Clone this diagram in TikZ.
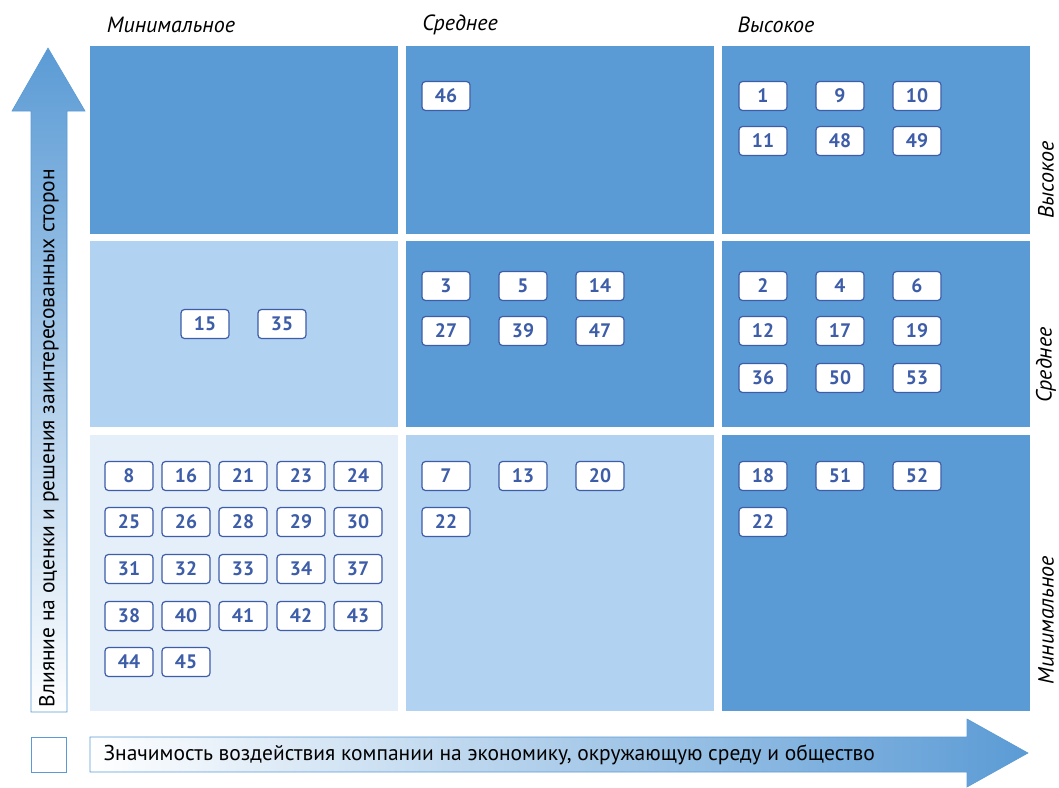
\documentclass[tikz,border=0pt]{standalone}
\usepackage{fontspec}
\setmainfont{PT Sans}
\usetikzlibrary{positioning, calc}
\definecolor{cdark}{HTML}{5B9BD5}
\definecolor{cmid}{HTML}{B1D2F0}
\definecolor{clight}{HTML}{E4EFFA}
\definecolor{cnum}{HTML}{3D5DA8}
\begin{document}
\begin{tikzpicture}[x=1pt, y=-1pt,
    cell/.style={fill=cdark},
    num/.style={draw=cnum, fill=white, rounded corners=3.5pt, line width=1.2pt, minimum width=48pt, minimum height=29pt, inner sep=0pt, text=cnum, font=\fontsize{19.5}{22}\selectfont\bfseries},
    head/.style={font=\fontsize{22}{24}\selectfont\itshape},
    axis/.style={font=\fontsize{21.5}{24}\selectfont}
]
\useasboundingbox (0,0) rectangle (1059,787);

% Ячейки матрицы
\fill[cell] (90,46) rectangle (398,234);
\fill[cell] (406,46) rectangle (714,234);
\fill[cell] (722,46) rectangle (1030,234);
\fill[cmid] (90,241) rectangle (398,427);
\fill[cell] (406,241) rectangle (714,427);
\fill[cell] (722,241) rectangle (1030,427);
\fill[clight] (90,435) rectangle (398,711);
\fill[cmid] (406,435) rectangle (714,711);
\fill[cell] (722,435) rectangle (1030,711);

% Заголовки столбцов
\node[head] (h1) at (171,25) {Минимальное};
\node[head] (h2) at (460,25) {Среднее};
\node[head] (h3) at (776,25) {Высокое};

% Заголовки строк
\node[head, rotate=90] (r1) at (1046,180) {Высокое};
\node[head, rotate=90] (r2) at (1046,365) {Среднее};
\node[head, rotate=90] (r3) at (1046,620) {Минимальное};

% Вертикальная стрелка
\shade[bottom color=white, top color=cdark, draw=cdark, line width=0.6pt]
  (31,712) -- (31,111) -- (12,111) -- (48,48) -- (85,111) -- (67,111) -- (67,712) -- cycle;
\node[axis, rotate=90] (yaxis) at (49,438) {Влияние на оценки и решения заинтересованных сторон};

% Горизонтальная стрелка
\shade[left color=white, right color=cdark, draw=cdark, line width=0.6pt]
  (90,737) -- (967,737) -- (967,719) -- (1028,753) -- (967,787) -- (967,772) -- (90,772) -- cycle;
\node[axis, anchor=west] (xaxis) at (100,755) {Значимость воздействия компании на экономику, окружающую среду и общество};

% Пустой квадрат
\draw[cdark, line width=1pt, fill=white] (31,737) rectangle (66,772);

% Высокое / минимальное
\node[num] (n46) at (446,96) {46};

% Высокое / высокое
\node[num] (n1) at (763,96) {1};
\node[num] (n9) at (840,96) {9};
\node[num] (n10) at (917,96) {10};
\node[num] (n11) at (763,141) {11};
\node[num] (n48) at (840,141) {48};
\node[num] (n49) at (917,141) {49};

% Среднее / минимальное
\node[num] (n15) at (205,324) {15};
\node[num] (n35) at (282,324) {35};

% Среднее / среднее
\node[num] (n3) at (446,286) {3};
\node[num] (n5) at (523,286) {5};
\node[num] (n14) at (600,286) {14};
\node[num] (n27) at (446,331) {27};
\node[num] (n39) at (523,331) {39};
\node[num] (n47) at (600,331) {47};

% Среднее / высокое
\node[num] (n2) at (763,286) {2};
\node[num] (n4) at (840,286) {4};
\node[num] (n6) at (917,286) {6};
\node[num] (n12) at (763,331) {12};
\node[num] (n17) at (840,331) {17};
\node[num] (n19) at (917,331) {19};
\node[num] (n36) at (763,378) {36};
\node[num] (n50) at (840,378) {50};
\node[num] (n53) at (917,378) {53};

% Минимальное / минимальное
\node[num] (n8) at (129,476) {8};
\node[num] (n16) at (186,476) {16};
\node[num] (n21) at (243,476) {21};
\node[num] (n23) at (301,476) {23};
\node[num] (n24) at (358,476) {24};
\node[num] (n25) at (129,522) {25};
\node[num] (n26) at (186,522) {26};
\node[num] (n28) at (243,522) {28};
\node[num] (n29) at (301,522) {29};
\node[num] (n30) at (358,522) {30};
\node[num] (n31) at (129,569) {31};
\node[num] (n32) at (186,569) {32};
\node[num] (n33) at (243,569) {33};
\node[num] (n34) at (301,569) {34};
\node[num] (n37) at (358,569) {37};
\node[num] (n38) at (129,616) {38};
\node[num] (n40) at (186,616) {40};
\node[num] (n41) at (243,616) {41};
\node[num] (n42) at (301,616) {42};
\node[num] (n43) at (358,616) {43};
\node[num] (n44) at (129,662) {44};
\node[num] (n45) at (186,662) {45};

% Минимальное / среднее
\node[num] (n7) at (446,476) {7};
\node[num] (n13) at (523,476) {13};
\node[num] (n20) at (600,476) {20};
\node[num] (n22a) at (446,522) {22};

% Минимальное / высокое
\node[num] (n18) at (763,476) {18};
\node[num] (n51) at (840,476) {51};
\node[num] (n52) at (917,476) {52};
\node[num] (n22b) at (763,522) {22};

\end{tikzpicture}
\end{document}
